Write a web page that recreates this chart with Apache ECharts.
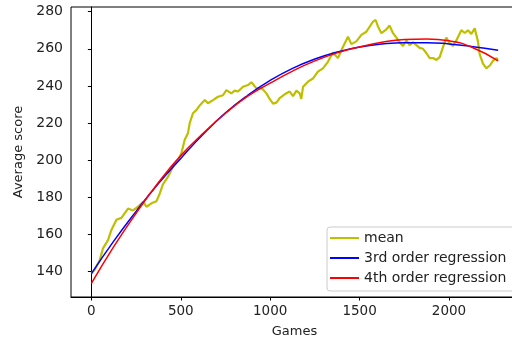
<!DOCTYPE html>
<html>
<head>
<meta charset="utf-8">
<script src="https://cdn.jsdelivr.net/npm/echarts@6/dist/echarts.min.js"></script>
<style>
  html, body { margin: 0; padding: 0; background: #fff; }
  #chart { width: 512px; height: 341px; }
</style>
</head>
<body>
<div id="chart"></div>
<script>
  // running mean
  var meanGames = [0, 18, 46, 65, 93, 112, 140, 168, 205, 233, 261, 289, 308, 336, 364, 382, 400, 428, 447, 466,
    484, 503, 522, 540, 550, 568, 587, 606, 634, 652, 680, 708, 736, 755, 783, 801, 820, 848, 876, 895,
    923, 951, 979, 997, 1016, 1035, 1053, 1081, 1109, 1128, 1147, 1165, 1174, 1184, 1211, 1239, 1267, 1295, 1323, 1351,
    1379, 1407, 1435, 1454, 1482, 1510, 1538, 1557, 1575, 1590, 1603, 1622, 1650, 1668, 1687, 1706, 1724, 1743, 1762, 1780,
    1799, 1818, 1836, 1855, 1874, 1892, 1911, 1930, 1948, 1967, 1985, 2004, 2022, 2041, 2069, 2088, 2106, 2125, 2144, 2162,
    2172, 2190, 2209, 2228, 2246, 2265, 2274];
  var meanScores = [139, 141, 146, 152.6, 157, 162.5, 168, 169, 174, 173, 175, 177.7, 175, 176.8, 178, 182, 187, 191, 194.8, 198.4,
    200, 203.7, 211, 214.5, 220, 225.3, 227, 229.5, 232.4, 230.7, 232.4, 234.2, 235, 237.8, 236, 237.5, 237, 239.6, 240.5, 242,
    238.7, 239, 236, 233, 230.5, 231, 233.5, 235.5, 237, 234.5, 237.5, 236, 233, 239.6, 242.3, 244, 247.7, 249.5, 253, 258,
    255, 261, 266.5, 262.5, 264, 267.5, 269.2, 272, 274.6, 275.5, 272, 268.4, 270.5, 272.5, 268.4, 266, 263.5, 261.5, 264.5, 262,
    263.5, 262, 260.5, 260, 257.6, 255, 255, 254, 255.5, 261, 266, 263, 261.5, 264.5, 270, 268.5, 270, 268, 271, 264,
    257, 252, 249.5, 251, 253.5, 255, 254];

  // regression curves
  var fitGames = [0, 125, 250, 375, 500, 625, 750, 875, 1000, 1125, 1250, 1375, 1500, 1625, 1750, 1875, 2000, 2125, 2275];
  var cubicScores = [139, 156.5, 172.5, 187.5, 201, 214, 225.5, 235, 243, 249.5, 254.5, 258.3, 261, 262.6, 263.3, 263.3, 262.6, 261.3, 259.2];
  var quarticScores = [133.7, 153.5, 171.5, 188, 202.5, 214.5, 225.3, 234.5, 241.5, 248, 253.5, 257.8, 261, 263.5, 265, 265.3, 264.3, 261, 253.5];

  var xTicks = [0, 500, 1000, 1500, 2000];
  var yTicks = [140, 160, 180, 200, 220, 240, 260, 280];

  function pairs (xs, ys) {
    return xs.map(function (x, i) { return [x, ys[i]]; });
  }
  function plain (v) {
    return String(v);
  }

  var font = 'DejaVu Sans';
  var textColor = '#222';
  var myChart = echarts.init(document.getElementById('chart'), null, {renderer: 'canvas'});
  myChart.setOption({
    animation: false,
    textStyle: {fontFamily: font},
    grid: {
      left: 71,
      top: 7,
      width: 447,
      height: 290,
      outerBoundsMode: 'none',
      containLabel: false,
      show: true,
      borderColor: '#000',
      borderWidth: 1,
      backgroundColor: 'transparent'
    },
    legend: {
      orient: 'vertical',
      left: 327,
      top: 227,
      padding: [1, 8, 3, 3],
      itemGap: 0,
      itemWidth: 29,
      itemHeight: 2,
      itemTextGap: 10,
      icon: 'rect',
      backgroundColor: 'rgba(255,255,255,0.85)',
      borderColor: '#cccccc',
      borderWidth: 1,
      borderRadius: 3,
      textStyle: {
        fontFamily: font,
        fontSize: 14,
        color: textColor,
        lineHeight: 20
      },
      data: ['mean', '3rd order regression', '4th order regression']
    },
    xAxis: {
      type: 'value',
      min: -114,
      max: 2386,
      name: 'Games',
      nameLocation: 'middle',
      nameGap: 28,
      nameTextStyle: {fontFamily: font, fontSize: 13, color: textColor},
      splitLine: {show: false},
      axisLine: {lineStyle: {color: '#000', width: 1}},
      axisTick: {show: true, inside: false, length: 3.5, lineStyle: {color: '#000'}, customValues: xTicks},
      axisLabel: {fontFamily: font, fontSize: 13.5, color: textColor, margin: 7, customValues: xTicks, formatter: plain}
    },
    yAxis: {
      type: 'value',
      min: 126.4,
      max: 282.5,
      name: 'Average score',
      nameLocation: 'middle',
      nameGap: 37,
      nameTextStyle: {fontFamily: font, fontSize: 13, color: textColor},
      splitLine: {show: false},
      axisLine: {show: true, lineStyle: {color: '#000', width: 1}},
      axisTick: {show: true, inside: false, length: 3.5, lineStyle: {color: '#000'}, customValues: yTicks},
      axisLabel: {fontFamily: font, fontSize: 14, color: textColor, margin: 8, customValues: yTicks, formatter: plain}
    },
    series: [{
      name: 'mean',
      type: 'line',
      data: pairs(meanGames, meanScores),
      showSymbol: false,
      symbol: 'none',
      color: '#bfbf00',
      lineStyle: {color: '#bfbf00', width: 2.2}
    }, {
      name: '3rd order regression',
      type: 'line',
      data: pairs(fitGames, cubicScores),
      smooth: true,
      showSymbol: false,
      symbol: 'none',
      color: '#0000ff',
      lineStyle: {color: '#0000ff', width: 1.5}
    }, {
      name: '4th order regression',
      type: 'line',
      data: pairs(fitGames, quarticScores),
      smooth: true,
      showSymbol: false,
      symbol: 'none',
      color: '#ff0000',
      lineStyle: {color: '#ff0000', width: 1.5}
    }]
  });
</script>
</body>
</html>
